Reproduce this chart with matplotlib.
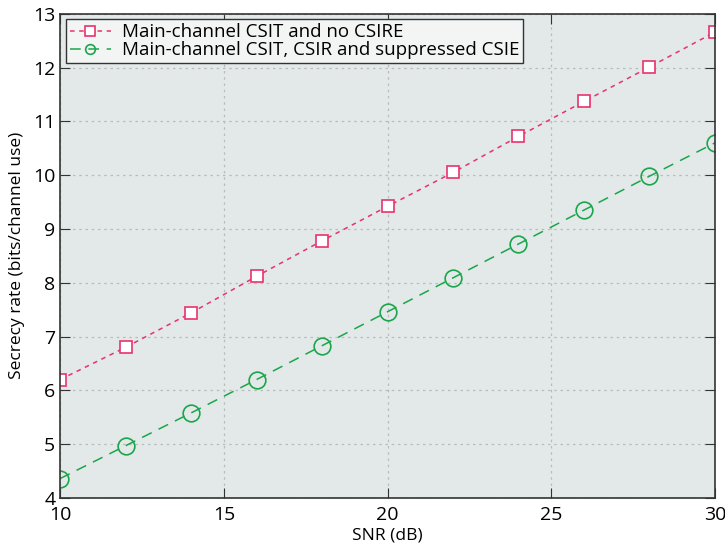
import matplotlib
matplotlib.use('Agg')
import matplotlib.pyplot as plt

plt.rcParams['font.family'] = ['Open Sans', 'DejaVu Sans']

snr = [10, 12, 14, 16, 18, 20, 22, 24, 26, 28, 30]
rate_no_csire = [6.2, 6.8, 7.44, 8.12, 8.78, 9.42, 10.05, 10.72, 11.37, 12.01, 12.66]
rate_suppressed = [4.36, 4.97, 5.58, 6.2, 6.83, 7.46, 8.09, 8.72, 9.35, 9.98, 10.6]

fig = plt.figure(figsize=(7.25, 5.52), dpi=100)
ax = fig.add_axes([0.083, 0.098, 0.903, 0.877])
ax.set_facecolor('#e3e8e8')

ax.plot(snr, rate_no_csire, linestyle=(0, (3, 3)), color='#e8336e', linewidth=1.1,
        marker='s', markersize=8.5, markerfacecolor='white', markeredgewidth=1.2,
        label='Main-channel CSIT and no CSIRE')
ax.plot(snr, rate_suppressed, linestyle=(0, (7, 5)), color='#1aa64a', linewidth=1.1,
        marker='o', markersize=12, markerfacecolor='none', markeredgewidth=1.2,
        label='Main-channel CSIT, CSIR and suppressed CSIE')

ax.set_xlim(10, 30)
ax.set_ylim(4, 13)
ax.set_xticks([10, 15, 20, 25, 30])
ax.set_yticks(range(4, 14))
ax.grid(True, linestyle=(0, (2, 3)), color='#b8bcbc', linewidth=0.9)
ax.tick_params(direction='in', top=True, right=True, labelsize=14, length=7, color='#333333')
ax.tick_params(axis='x', pad=6)
for s in ax.spines.values():
    s.set_color('#333333')
    s.set_linewidth(1.2)

ax.set_xlabel('SNR (dB)', fontsize=12.5, labelpad=2)
ax.set_ylabel('Secrecy rate (bits/channel use)', fontsize=12.5, labelpad=6)

leg = ax.legend(loc='upper left', fontsize=13.5, frameon=True, fancybox=False,
                borderaxespad=0.3, handlelength=2.2, labelspacing=0.0,
                borderpad=0.2, framealpha=1, handletextpad=0.6)
leg.get_frame().set_facecolor('#f3f5f5')
leg.get_frame().set_edgecolor('#333333')
for h in leg.legend_handles:
    h.set_markersize(7)

fig.savefig('out.png', dpi=100)
